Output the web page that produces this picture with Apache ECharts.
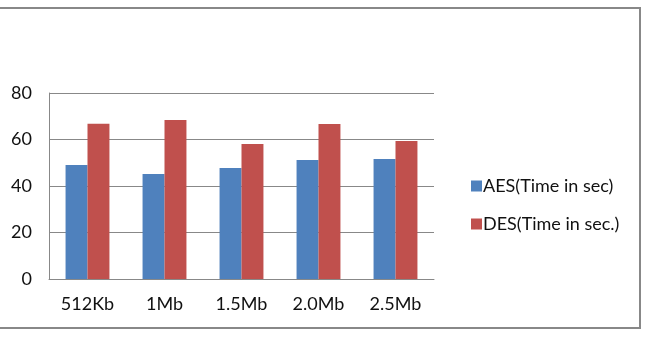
<!DOCTYPE html>
<html>
<head>
<meta charset="utf-8">
<script src="https://cdn.jsdelivr.net/npm/echarts@6/dist/echarts.min.js"></script>
<style>
html,body{margin:0;padding:0;background:#fff;}
#chart{width:649px;height:342px;}
</style>
</head>
<body>
<div id="chart"></div>
<script>
'use strict';
var categories = ['512Kb', '1Mb', '1.5Mb', '2.0Mb', '2.5Mb'];
var aesValues = [49.0, 45.2, 47.7, 51.2, 51.6];
var desValues = [66.8, 68.4, 58.1, 66.7, 59.4];
var seriesNames = ['AES(Time in sec)', 'DES(Time in sec.)'];

var font = 'Lato, "Open Sans", sans-serif';
var chart = echarts.init(document.getElementById('chart'));
chart.setOption({
	animation: false,
	color: ['#4f81bd', '#c0504d'],
	graphic: [{
		type: 'rect',
		shape: {x: -10, y: 8, width: 650, height: 320},
		style: {fill: 'none', stroke: '#888', lineWidth: 2},
		silent: true
	}],
	grid: {left: 49, right: 215, top: 93, bottom: 63},
	legend: {
		orient: 'vertical',
		left: 466,
		top: 172,
		itemWidth: 11,
		itemHeight: 11,
		itemGap: 20,
		icon: 'rect',
		textStyle: {fontFamily: font, fontSize: 18, color: '#111', padding: [0, 0, 0, -4]},
		data: seriesNames
	},
	xAxis: {
		type: 'category',
		data: categories,
		axisLine: {lineStyle: {color: '#888', width: 1}},
		axisTick: {show: false},
		axisLabel: {fontFamily: font, fontSize: 18, color: '#111', margin: 16}
	},
	yAxis: {
		type: 'value',
		min: 0, max: 80, interval: 20,
		axisLine: {show: true, lineStyle: {color: '#888', width: 1}},
		axisTick: {show: false},
		splitLine: {lineStyle: {color: '#888', width: 1}},
		axisLabel: {fontFamily: font, fontSize: 18, color: '#111', margin: 17}
	},
	series: [
		{name: seriesNames[0], type: 'bar', data: aesValues, barGap: '0%', barCategoryGap: '43%'},
		{name: seriesNames[1], type: 'bar', data: desValues, barGap: '0%', barCategoryGap: '43%'}
	]
});
</script>
</body>
</html>
